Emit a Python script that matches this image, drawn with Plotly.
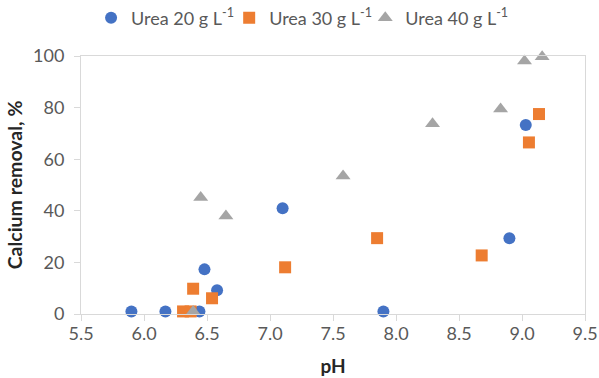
import plotly.graph_objects as go

# Data
ph_20 = [5.90, 6.17, 6.44, 6.48, 6.58, 7.10, 7.90, 8.90, 9.03]
ca_20 = [1.0, 1.0, 1.0, 17.3, 9.2, 41.0, 1.0, 29.4, 73.3]

ph_30 = [6.31, 6.37, 6.39, 6.54, 7.12, 7.85, 8.68, 9.055, 9.135]
ca_30 = [1.0, 1.0, 9.8, 6.1, 18.1, 29.4, 22.7, 66.5, 77.5]

ph_40 = [6.39, 6.45, 6.65, 7.58, 8.29, 8.83, 9.02, 9.16]
ca_40 = [1.0, 45.2, 38.0, 53.5, 73.7, 79.5, 98.1, 99.7]

series_names = ["Urea 20 g L<sup>-1</sup>", "Urea 30 g L<sup>-1</sup>", "Urea 40 g L<sup>-1</sup>"]
x_ticks = [5.5, 6.0, 6.5, 7.0, 7.5, 8.0, 8.5, 9.0, 9.5]
y_ticks = [0, 20, 40, 60, 80, 100]

FONT = "Lato, 'Open Sans', sans-serif"

fig = go.Figure()
fig.add_trace(go.Scatter(x=ph_20, y=ca_20, mode="markers", name=series_names[0],
                         legend="legend", cliponaxis=False,
                         marker=dict(symbol="circle", size=12, color="#4472C4")))
fig.add_trace(go.Scatter(x=ph_30, y=ca_30, mode="markers", name=series_names[1],
                         legend="legend2", cliponaxis=False,
                         marker=dict(symbol="square", size=12, color="#ED7D31")))
fig.add_trace(go.Scatter(x=ph_40, y=ca_40, mode="markers", name=series_names[2],
                         legend="legend3", cliponaxis=False,
                         marker=dict(symbol="triangle-up", size=13, color="#A5A5A5")))

axis_common = dict(showgrid=False, zeroline=False, showline=True, mirror=True,
                   linecolor="#d9d9d9", linewidth=1, ticks="outside", ticklen=6,
                   tickcolor="#d9d9d9", tickfont=dict(family=FONT, size=18, color="#595959"))

fig.update_xaxes(range=[5.5, 9.5], tickvals=x_ticks,
                 ticktext=[f"{v:.1f}" for v in x_ticks],
                 title=dict(text="<b>pH</b>", font=dict(family=FONT, size=19, color="#262626"),
                            standoff=17),
                 ticklabelstandoff=-3,
                 **axis_common)
fig.update_yaxes(range=[0, 100], tickvals=y_ticks,
                 ticktext=[str(v) for v in y_ticks],
                 title=dict(text="<b>Calcium removal, %</b>",
                            font=dict(family=FONT, size=19.5, color="#262626"), standoff=5),
                 ticklabelstandoff=6,
                 **axis_common)

leg_common = dict(orientation="h", xanchor="left", y=1.147, yanchor="middle",
                  font=dict(family=FONT, size=18, color="#595959"),
                  itemwidth=30, bgcolor="rgba(0,0,0,0)")

fig.update_layout(
    width=599, height=378,
    margin=dict(l=81, r=14, t=56, b=64, autoexpand=False),
    plot_bgcolor="white", paper_bgcolor="white",
    font=dict(family=FONT, color="#595959"),
    legend=dict(x=0.020, **leg_common),
    legend2=dict(x=0.294, **leg_common),
    legend3=dict(x=0.564, **leg_common),
    showlegend=True,
)

fig.write_html("out.html", config={"displayModeBar": False},
               post_script="document.body.style.margin='0px';")
